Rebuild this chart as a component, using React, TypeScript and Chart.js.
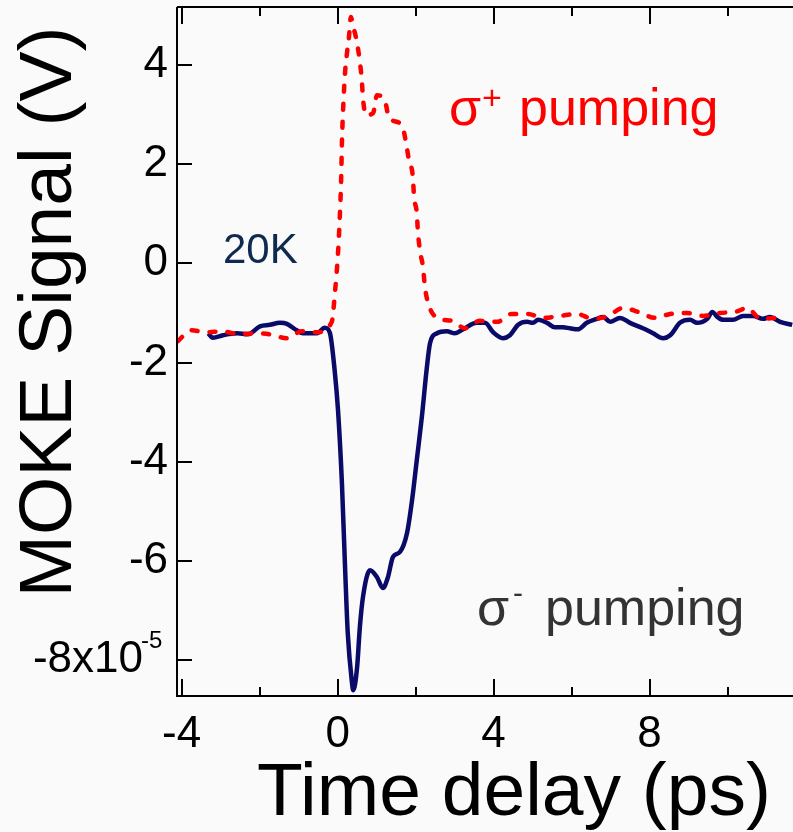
import React, { useEffect, useRef } from 'react';
import { Chart, registerables } from 'chart.js';

Chart.register(...registerables);

const FONT = "'Liberation Sans', Arial, Helvetica, sans-serif";

// σ- pumping (solid navy)
const sigmaMinusX = [
  -3.32, -3.2, -2.94, -2.58, -2.3, -1.99, -1.74, -1.48, -1.3, -1.05, -0.89, -0.53, -0.33, -0.2,
  -0.07, 0.01, 0.11, 0.19, 0.26, 0.37, 0.4, 0.5, 0.57, 0.65, 0.83, 1.01, 1.16, 1.29, 1.42, 1.6,
  1.78, 1.91, 2.03, 2.16, 2.29, 2.37, 2.55, 2.8, 3.01, 3.22, 3.57, 3.78, 3.99, 4.24, 4.42, 4.63,
  4.86, 5.01, 5.14, 5.37, 5.57, 5.78, 5.96, 6.16, 6.39, 6.65, 6.81, 6.99, 7.24, 7.5, 7.83, 8.09,
  8.35, 8.53, 8.78, 9.04, 9.22, 9.48, 9.61, 9.74, 9.89, 10.14, 10.4, 10.66, 10.91, 11.09, 11.35, 11.66,
];
const sigmaMinusY = [
  -1.41, -1.5, -1.45, -1.41, -1.43, -1.27, -1.24, -1.2, -1.22, -1.35, -1.41, -1.41, -1.3, -1.4,
  -2.21, -2.96, -4.43, -6.12, -7.46, -8.47, -8.61, -8.14, -7.34, -6.73, -6.19, -6.33, -6.55, -6.33, -5.92, -5.82,
  -5.44, -4.77, -3.97, -3.1, -2.09, -1.61, -1.41, -1.37, -1.41, -1.33, -1.2, -1.2, -1.39, -1.51, -1.45, -1.24,
  -1.18, -1.2, -1.14, -1.2, -1.29, -1.29, -1.31, -1.33, -1.2, -1.12, -1.08, -1.18, -1.1, -1.2, -1.31, -1.41,
  -1.51, -1.45, -1.2, -1.14, -1.2, -1.12, -0.98, -1.08, -1.14, -1.14, -1.06, -1.06, -1.12, -1.08, -1.18, -1.24,
];

// σ+ pumping (dotted red)
const sigmaPlusX = [
  -4.1, -3.76, -3.35, -2.97, -2.53, -2.1, -1.74, -1.3, -0.92, -0.53, -0.15, -0.07, 0.01, 0.06,
  0.09, 0.11, 0.14, 0.19, 0.24, 0.29, 0.34, 0.39, 0.5, 0.57, 0.62, 0.65, 0.73, 0.91, 1.01, 1.21,
  1.32, 1.65, 1.75, 1.83, 1.93, 1.96, 2.03, 2.06, 2.11, 2.19, 2.24, 2.32, 2.55, 2.94, 3.27, 3.65,
  4.09, 4.47, 4.88, 5.27, 5.71, 6.14, 6.55, 6.94, 7.32, 7.71, 8.14, 8.53, 8.96, 9.37, 9.81, 10.2,
  10.51, 10.85, 11.23,
];
const sigmaPlusY = [
  -1.57, -1.35, -1.39, -1.37, -1.43, -1.41, -1.43, -1.51, -1.37, -1.39, -1.18, -0.6, 0.21, 1.02,
  1.68, 2.43, 3.09, 3.84, 4.24, 4.56, 4.97, 4.81, 4.44, 4.06, 3.7, 3.33, 2.99, 3.03, 3.39, 3.29,
  2.93, 2.79, 2.45, 2.08, 1.74, 1.34, 1.02, 0.63, 0.27, -0.08, -0.48, -0.8, -1.1, -1.16, -1.31, -1.16,
  -1.18, -1.02, -1.02, -1.1, -1.06, -1.02, -1.12, -1.06, -0.9, -0.98, -1.1, -1.02, -1.0, -1.06, -1.0, -0.98,
  -0.9, -1.12, -1.1,
];

const xMajorTicks = [-4, 0, 4, 8];
const xMinorTicks = [-2, 2, 6, 10];
const xTickLabels = ['-4', '0', '4', '8'];
const yMajorTicks = [4, 2, 0, -2, -4, -6, -8];
const yTickLabels = ['4', '2', '0', '-2', '-4', '-6', ''];
const yLastLabel = { value: -8, base: '-8x10', exp: '-5' };

const xTitle = 'Time delay (ps)';
const yTitle = 'MOKE Signal (V)';
const tempLabel = '20K';
const plusLabel = { sigma: 'σ', sup: '+', rest: 'pumping' };
const minusLabel = { sigma: 'σ', sup: '-', rest: 'pumping' };

const bgPlugin = {
  id: 'bg',
  beforeDraw(chart: any) {
    const { ctx, width, height } = chart;
    ctx.save();
    ctx.fillStyle = '#fafafa';
    ctx.fillRect(0, 0, width, height);
    ctx.restore();
  },
};

const axesPlugin = {
  id: 'axesTicks',
  afterDatasetsDraw(chart: any) {
    const { ctx, chartArea: a, scales } = chart;
    const xs = scales.x;
    const ys = scales.y;
    ctx.save();
    ctx.strokeStyle = '#000';
    ctx.lineWidth = 2;
    ctx.beginPath();
    ctx.moveTo(a.left, a.top);
    ctx.lineTo(a.left, a.bottom);
    ctx.lineTo(a.right, a.bottom);
    ctx.moveTo(a.left, a.top);
    ctx.lineTo(a.right, a.top);
    for (const v of xMajorTicks) {
      const px = Math.round(xs.getPixelForValue(v));
      ctx.moveTo(px, a.bottom);
      ctx.lineTo(px, a.bottom - 17);
      ctx.moveTo(px, a.top);
      ctx.lineTo(px, a.top + 17);
    }
    for (const v of xMinorTicks) {
      const px = Math.round(xs.getPixelForValue(v));
      ctx.moveTo(px, a.bottom);
      ctx.lineTo(px, a.bottom - 9);
      ctx.moveTo(px, a.top);
      ctx.lineTo(px, a.top + 9);
    }
    for (const v of yMajorTicks) {
      const py = Math.round(ys.getPixelForValue(v));
      ctx.moveTo(a.left, py);
      ctx.lineTo(a.left + 15, py);
    }
    ctx.stroke();

    // last y tick label with superscript exponent
    const py = ys.getPixelForValue(yLastLabel.value);
    ctx.fillStyle = '#000';
    ctx.textAlign = 'right';
    ctx.textBaseline = 'middle';
    ctx.font = `44px ${FONT}`;
    ctx.fillText(yLastLabel.base, 143, py);
    ctx.textAlign = 'left';
    ctx.textBaseline = 'alphabetic';
    ctx.font = `24px ${FONT}`;
    ctx.fillText(yLastLabel.exp, 141, py - 12);
    ctx.restore();
  },
};

const textPlugin = {
  id: 'texts',
  afterDraw(chart: any) {
    const { ctx } = chart;
    ctx.save();
    ctx.textBaseline = 'alphabetic';
    // x title
    ctx.fillStyle = '#000';
    ctx.font = `75px ${FONT}`;
    ctx.textAlign = 'left';
    ctx.fillText(xTitle, 257, 815);
    // y title
    ctx.save();
    ctx.translate(71, 312);
    ctx.rotate(-Math.PI / 2);
    ctx.textAlign = 'center';
    ctx.font = `75px ${FONT}`;
    ctx.fillText(yTitle, 0, 0);
    ctx.restore();
    // 20K
    ctx.textAlign = 'left';
    ctx.fillStyle = '#0f2a4f';
    ctx.font = `42px ${FONT}`;
    ctx.fillText(tempLabel, 223, 263);
    // sigma+ pumping
    ctx.fillStyle = '#ff0000';
    ctx.font = `52px ${FONT}`;
    ctx.fillText(plusLabel.sigma, 449, 125);
    ctx.fillText(plusLabel.rest, 519, 125);
    ctx.font = `34px ${FONT}`;
    ctx.fillText(plusLabel.sup, 482, 109);
    // sigma- pumping
    ctx.fillStyle = '#333333';
    ctx.font = `52px ${FONT}`;
    ctx.fillText(minusLabel.sigma, 477, 625);
    ctx.fillText(minusLabel.rest, 545, 625);
    ctx.font = `30px ${FONT}`;
    ctx.fillText(minusLabel.sup, 513, 603);
    ctx.restore();
  },
};

export default function App() {
  const ref = useRef<HTMLCanvasElement>(null);
  useEffect(() => {
    const canvas = ref.current!;
    const chart = new Chart(canvas, {
      type: 'line',
      data: {
        datasets: [
          {
            label: 'σ+ pumping',
            data: sigmaPlusX.map((x, i) => ({ x, y: sigmaPlusY[i] })),
            borderColor: '#ff0000',
            borderWidth: 4.5,
            borderDash: [6, 12],
            borderCapStyle: 'round',
            pointRadius: 0,
            fill: false,
            cubicInterpolationMode: 'monotone',
          },
          {
            label: 'σ- pumping',
            data: sigmaMinusX.map((x, i) => ({ x, y: sigmaMinusY[i] })),
            borderColor: '#0a0a68',
            borderWidth: 4.5,
            pointRadius: 0,
            fill: false,
            cubicInterpolationMode: 'monotone',
          },
        ],
      },
      options: {
        responsive: false,
        maintainAspectRatio: false,
        animation: false,
        layout: { padding: { top: 7, left: 0, right: 0, bottom: 0 } },
        plugins: { legend: { display: false }, tooltip: { enabled: false } },
        scales: {
          x: {
            type: 'linear',
            min: -4.12,
            max: 11.68,
            grid: { display: false, drawTicks: false },
            border: { display: false },
            ticks: {
              color: '#000',
              font: { family: FONT, size: 44 },
              padding: 12,
              maxRotation: 0,
              autoSkip: false,
              callback: (v: any) => {
                const i = xMajorTicks.indexOf(Number(v));
                return i >= 0 ? xTickLabels[i] : '';
              },
            },
            afterBuildTicks: (s: any) => {
              s.ticks = xMajorTicks.map((v) => ({ value: v }));
            },
            afterFit: (s: any) => {
              s.height = 136;
              s.paddingLeft = 0;
              s.paddingRight = 0;
            },
          },
          y: {
            type: 'linear',
            min: -8.726,
            max: 5.17,
            grid: { display: false, drawTicks: false },
            border: { display: false },
            ticks: {
              color: '#000',
              font: { family: FONT, size: 44 },
              padding: 9,
              autoSkip: false,
              callback: (v: any) => {
                const i = yMajorTicks.indexOf(Number(v));
                return i >= 0 ? yTickLabels[i] : '';
              },
            },
            afterBuildTicks: (s: any) => {
              s.ticks = yMajorTicks.map((v) => ({ value: v }));
            },
            afterFit: (s: any) => {
              s.width = 177;
              s.paddingTop = 0;
              s.paddingBottom = 0;
            },
          },
        },
      },
      plugins: [bgPlugin, axesPlugin, textPlugin],
    } as any);
    return () => chart.destroy();
  }, []);
  return (
    <div style={{ position: 'fixed', left: 0, top: 0, width: 793, height: 832, background: '#fafafa' }}>
      <canvas ref={ref} width={793} height={832} style={{ display: 'block', width: 793, height: 832 }} />
    </div>
  );
}
